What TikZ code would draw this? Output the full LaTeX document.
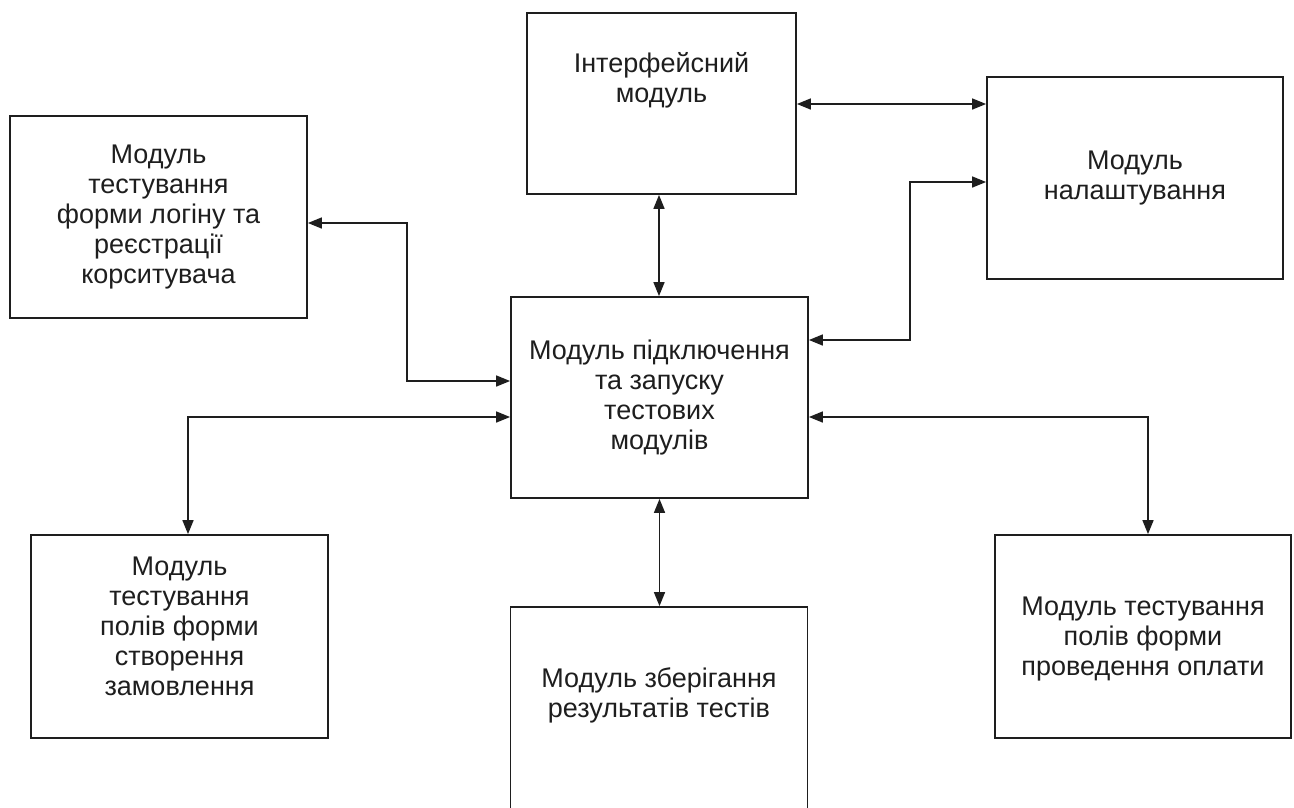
\documentclass[tikz,border=0pt]{standalone}
\usepackage{fontspec}
\setmainfont{Liberation Sans}
\usetikzlibrary{arrows.meta,calc}
\definecolor{ink}{HTML}{1E1E1E}
\tikzset{
  modbox/.style={draw=ink, line width=1.8pt, rectangle, inner sep=0pt, align=center, text=ink,
    font=\fontsize{27}{30}\selectfont},
  plain/.style={inner sep=0pt, align=center, text=ink, font=\fontsize{27}{30}\selectfont},
  link/.style={draw=ink, line width=1.6pt, {Triangle[length=14pt,width=11pt]}-{Triangle[length=14pt,width=11pt]}}
}
\begin{document}
\begin{tikzpicture}[x=1pt,y=-1pt]
\useasboundingbox[fill=white] (0,0) rectangle (1294,807);
% boxes
\node[modbox, minimum width=297pt, minimum height=202pt] (login) at (158.5,217)
  {Модуль\\тестування\\форми логіну та\\реєстрації\\корситувача};
\node[modbox, minimum width=269pt, minimum height=181pt] (iface) at (661.5,103.5) {};
\node[plain] (ifacetext) at (661.5,80) {Інтерфейсний\\модуль};
\node[modbox, minimum width=296pt, minimum height=202pt] (settings) at (1135,178)
  {Модуль\\налаштування};
\node[modbox, minimum width=297pt, minimum height=201pt] (central) at (659.5,397.5)
  {Модуль підключення\\та запуску\\тестових\\модулів};
\node[modbox, minimum width=297pt, minimum height=203pt] (order) at (179.5,636.5) {};
\node[plain] (ordertext) at (179.5,626) {Модуль\\тестування\\полів форми\\створення\\замовлення};
\node[modbox, minimum width=297pt, minimum height=240pt] (storage) at (659,727) {};
\node[plain] (storagetext) at (659,695) {Модуль зберігання\\результатів тестів};
\node[modbox, minimum width=296pt, minimum height=203pt] (payment) at (1143,636.5) {};
\node[plain] (paymenttext) at (1143,639) {Модуль тестування\\полів форми\\проведення оплати};
% helper coordinates
\coordinate (y104) at (0,104);
\coordinate (y340) at (0,340);
\coordinate (y182) at (0,182);
\coordinate (y223) at (0,223);
\coordinate (y381) at (0,381);
\coordinate (y417) at (0,417);
\coordinate (x659) at (659,0);
\coordinate (x188) at (188,0);
\coordinate (x1148) at (1148,0);
% connectors
\draw[link] (iface.east |- y104) -- (settings.west |- y104);
\draw[link] (iface.south -| x659) -- (central.north -| x659);
\draw[link] (central.east |- y340) -- (910,340) -- (910,182) -- (settings.west |- y182);
\draw[link] (login.east |- y223) -- (407,223) -- (407,381) -- (central.west |- y381);
\draw[link] (central.west |- y417) -- (188,417) -- (order.north -| x188);
\draw[link] (central.south) -- (storage.north -| central.south);
\draw[link] (central.east |- y417) -- (1148,417) -- (payment.north -| x1148);
\end{tikzpicture}
\end{document}
